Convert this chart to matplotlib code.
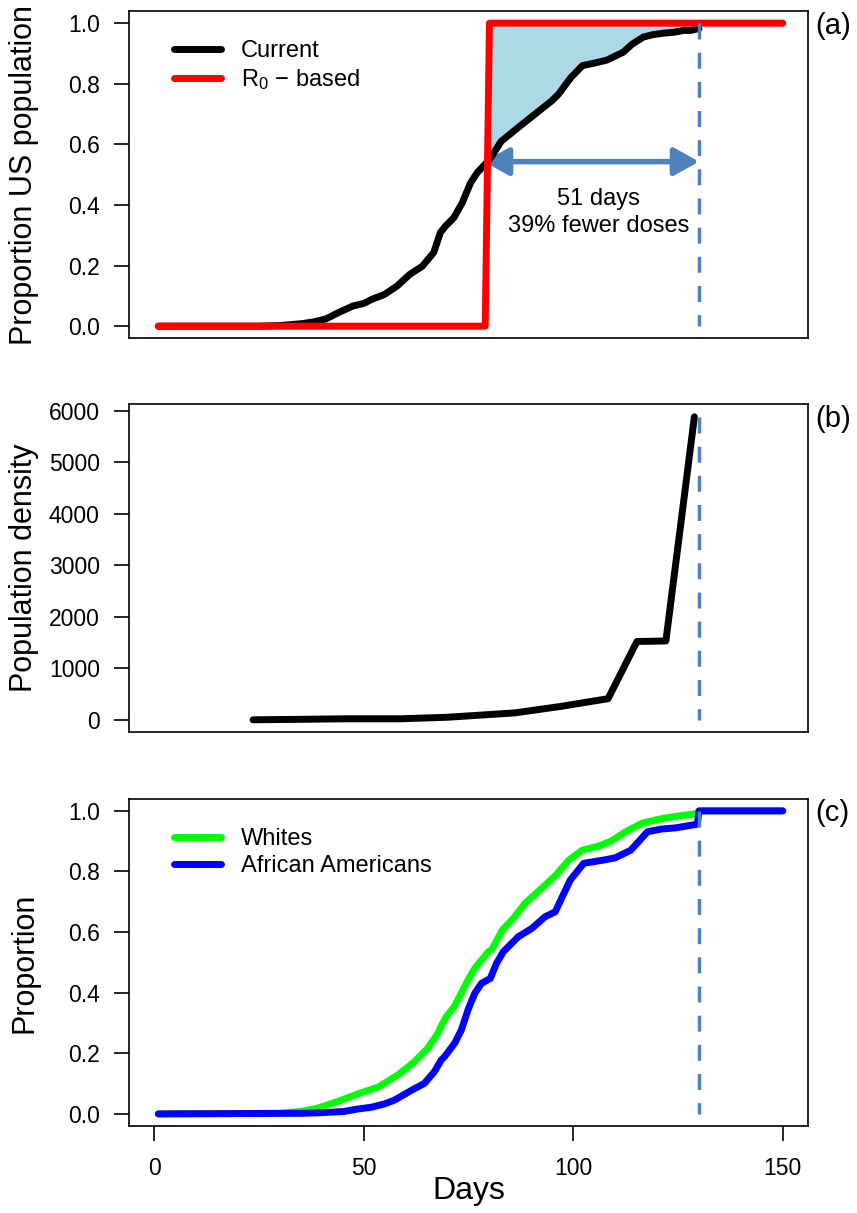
import numpy as np
import matplotlib
matplotlib.use("Agg")
from matplotlib import pyplot as plt
from matplotlib.patches import FancyArrowPatch

plt.rcParams['font.family'] = ['Liberation Sans', 'DejaVu Sans']
plt.rcParams['mathtext.default'] = 'regular'

#--- Panel (a): current vaccination schedule vs R0-based
cur_days = [1, 25, 30, 35, 38, 41, 44, 47.5, 50, 52, 55, 58, 61, 64, 66.7, 68.3, 69.5,
            71.5, 73.5, 75.5, 77, 79, 80.5, 82.8, 86.8, 90.8, 94.9, 96.5, 99.4, 102.2,
            105, 108, 111.9, 114, 116.7, 119, 121.5, 124, 126.4, 128, 130]
cur_vals = [0, 0, 0.002, 0.008, 0.014, 0.024, 0.045, 0.067, 0.075, 0.089, 0.105, 0.133,
            0.171, 0.198, 0.243, 0.309, 0.33, 0.358, 0.407, 0.473, 0.505, 0.535, 0.56,
            0.61, 0.655, 0.699, 0.744, 0.766, 0.82, 0.86, 0.868, 0.878, 0.904, 0.93,
            0.954, 0.962, 0.967, 0.97, 0.976, 0.976, 0.982]
r0_days = [1, 79, 80, 150]
r0_vals = [0, 0, 1, 1]
switch_day = 79.5
end_day = 130
cross_val = 0.543

#--- Panel (b): population density
dens_days = [23.6, 35, 45.5, 58.7, 70, 86.1, 97, 108.3, 115.2, 122.1, 128.9]
dens_vals = [0, 10, 20, 20, 50, 135, 260, 410, 1520, 1530, 5880]

#--- Panel (c): whites vs african americans
wh_days = [1, 30, 35, 39, 43.8, 48.6, 53.4, 58.2, 62.1, 65.3, 67.7, 68.5, 69.7, 71.7,
           74.9, 76.5, 79.7, 80.5, 83.1, 86, 88.5, 93.3, 96, 98.9, 102.1, 106.1, 109,
           112.5, 116.5, 121.3, 125, 129.5, 130, 150]
wh_vals = [0, 0.002, 0.008, 0.019, 0.041, 0.066, 0.088, 0.129, 0.172, 0.217, 0.266, 0.29,
           0.321, 0.356, 0.442, 0.48, 0.535, 0.541, 0.607, 0.65, 0.695, 0.755, 0.79,
           0.837, 0.87, 0.884, 0.9, 0.931, 0.96, 0.975, 0.983, 0.991, 1.0, 1.0]
aa_days = [1, 35, 40, 45.3, 48, 51.8, 55, 57.4, 61.3, 64.5, 66.9, 68.5, 69.3, 71.7, 73.3,
           74.9, 76.5, 78.1, 80.2, 81.7, 83.3, 86.9, 90.1, 93.3, 95.7, 97.5, 99.3, 102.5,
           106.9, 110, 113.7, 117.7, 121, 124.4, 129.6, 130, 150]
aa_vals = [0, 0.002, 0.004, 0.008, 0.015, 0.022, 0.033, 0.046, 0.077, 0.101, 0.14, 0.178,
           0.189, 0.233, 0.277, 0.344, 0.398, 0.431, 0.447, 0.497, 0.535, 0.585, 0.612,
           0.651, 0.667, 0.72, 0.772, 0.827, 0.837, 0.845, 0.87, 0.931, 0.94, 0.944,
           0.956, 1.0, 1.0]

dash_col = "#4F81BD"
lw = 5
tick_fs = 16.5
lab_fs = 22

#--- Figure and axes
fig = plt.figure(figsize=(8.57, 12.13), dpi=100)
ax_a = fig.add_axes([0.1505, 0.7211, 0.7923, 0.2698])
ax_b = fig.add_axes([0.1505, 0.3968, 0.7923, 0.2698])
ax_c = fig.add_axes([0.1505, 0.0717, 0.7923, 0.2698])


def style_axis(ax, ylabel, panel):
    ax.set_xlim(-6, 156)
    for s in ax.spines.values():
        s.set_linewidth(1.2)
    ax.tick_params(axis='y', direction='out', length=11, width=1.2, pad=10, labelsize=tick_fs)
    ax.tick_params(axis='x', direction='out', length=11, width=1.2, pad=11, labelsize=tick_fs)
    ax.set_ylabel(ylabel, fontsize=lab_fs)
    ax.yaxis.set_label_coords(-0.132, 0.5)
    ax.text(1.01, 0.955, panel, transform=ax.transAxes, fontsize=21, ha='left', va='center')


def add_legend(ax):
    ax.legend(loc='upper left', bbox_to_anchor=(0.066, 0.91), frameon=False, fontsize=17,
              handlelength=2.0, handletextpad=0.85, labelspacing=0.2, borderpad=0,
              borderaxespad=0)


#--- (a)
mask = np.array(cur_days) >= switch_day
ax_a.fill_between(np.array(cur_days)[mask], np.array(cur_vals)[mask], 1, color="lightblue", lw=0)
ax_a.plot(cur_days, cur_vals, color="black", lw=lw, solid_capstyle='round', label="Current")
ax_a.plot(r0_days, r0_vals, color="red", lw=lw, solid_capstyle='round', label="R$_0$ − based")
ax_a.plot([end_day, end_day], [1, 0], color=dash_col, lw=2.5, dashes=(4.6, 3.8))
arr = FancyArrowPatch((switch_day - 0.8, cross_val), (end_day, cross_val),
                      arrowstyle='<|-|>,head_length=0.75,head_width=0.42', mutation_scale=20,
                      color=dash_col, lw=4, shrinkA=0, shrinkB=0)
ax_a.add_patch(arr)
ax_a.text(106, 0.421, "51 days", ha='center', va='center', fontsize=17)
ax_a.text(106, 0.332, "39% fewer doses", ha='center', va='center', fontsize=17)
ax_a.set_ylim(-0.04, 1.04)
ax_a.set_yticks([0, 0.2, 0.4, 0.6, 0.8, 1.0])
ax_a.set_yticklabels(["0.0", "0.2", "0.4", "0.6", "0.8", "1.0"])
ax_a.set_xticks([])
style_axis(ax_a, "Proportion US population", "(a)")
add_legend(ax_a)

#--- (b)
ax_b.plot(dens_days, dens_vals, color="black", lw=lw, solid_capstyle='round')
ax_b.plot([end_day, end_day], [5880, 0], color=dash_col, lw=2.5, dashes=(4.6, 3.8))
ax_b.set_ylim(-230, 6120)
ax_b.set_yticks([0, 1000, 2000, 3000, 4000, 5000, 6000])
ax_b.set_xticks([])
style_axis(ax_b, "Population density", "(b)")

#--- (c)
ax_c.plot(wh_days, wh_vals, color="#00FF00", lw=lw, solid_capstyle='round', label="Whites")
ax_c.plot(aa_days, aa_vals, color="#0000FF", lw=lw, solid_capstyle='round', label="African Americans")
ax_c.plot([end_day, end_day], [1, 0], color=dash_col, lw=2.5, dashes=(4.6, 3.8))
ax_c.set_ylim(-0.04, 1.04)
ax_c.set_yticks([0, 0.2, 0.4, 0.6, 0.8, 1.0])
ax_c.set_yticklabels(["0.0", "0.2", "0.4", "0.6", "0.8", "1.0"])
ax_c.set_xticks([0, 50, 100, 150])
style_axis(ax_c, "Proportion", "(c)")
ax_c.set_xlabel("Days", fontsize=23)
ax_c.xaxis.set_label_coords(0.5, -0.152)
add_legend(ax_c)

fig.savefig("out.png", dpi=100)
